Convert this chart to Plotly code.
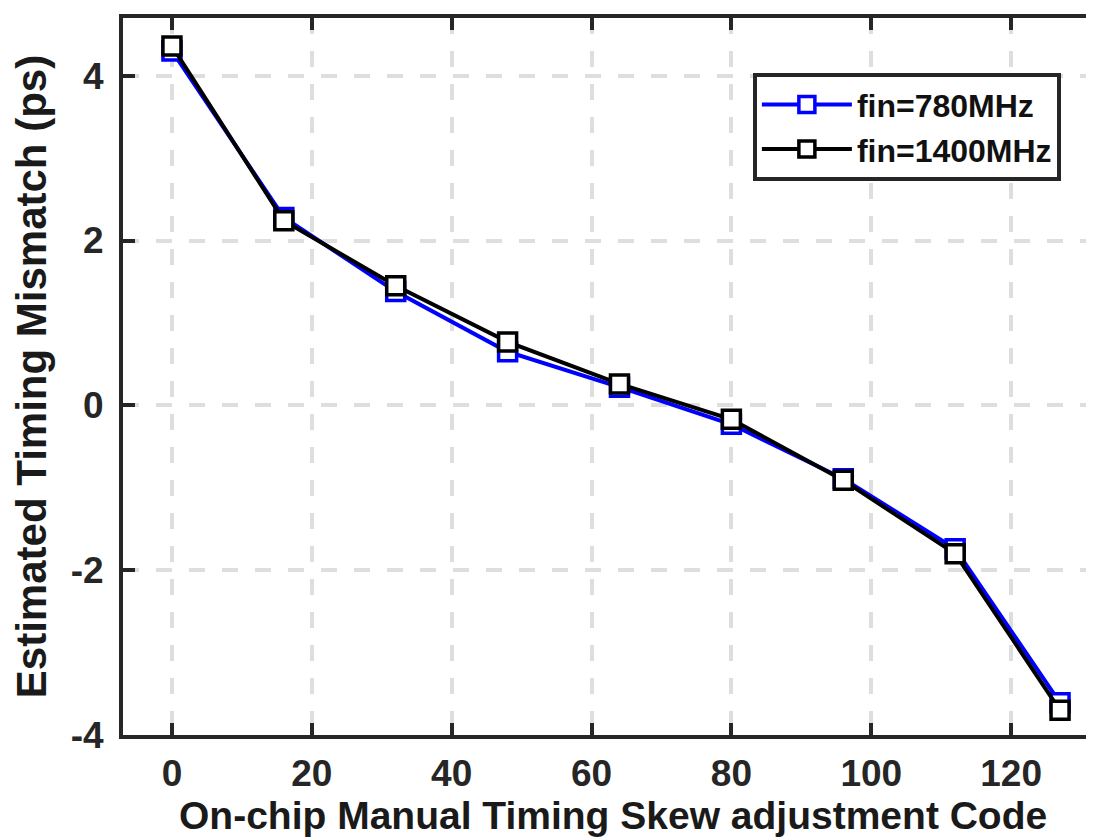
import plotly.graph_objects as go

codes = [0, 16, 32, 48, 64, 80, 96, 112, 127]
mismatch_780 = [4.30, 2.28, 1.38, 0.65, 0.22, -0.23, -0.89, -1.74, -3.61]
mismatch_1400 = [4.36, 2.24, 1.45, 0.77, 0.26, -0.17, -0.91, -1.80, -3.70]
x_ticks = [0, 20, 40, 60, 80, 100, 120]
y_ticks = [-4, -2, 0, 2, 4]
x_title = "On-chip Manual Timing Skew adjustment Code"
y_title = "Estimated Timing Mismatch (ps)"

FONT = "Liberation Sans, Arial, sans-serif"
AXC = "#262626"

fig = go.Figure()
fig.add_trace(go.Scatter(
    x=codes, y=mismatch_780, mode="lines+markers", name="fin=780MHz",
    line=dict(color="#0000ff", width=4),
    marker=dict(symbol="square", size=18, color="white",
                line=dict(color="#0000ff", width=3.5)),
))
fig.add_trace(go.Scatter(
    x=codes, y=mismatch_1400, mode="lines+markers", name="fin=1400MHz",
    line=dict(color="#000000", width=4),
    marker=dict(symbol="square", size=18, color="white",
                line=dict(color="#000000", width=3.5)),
))

fig.update_layout(
    width=1094, height=839,
    margin=dict(l=115, r=0, t=10, b=112),
    paper_bgcolor="white", plot_bgcolor="white",
    font=dict(family=FONT, color=AXC, weight="bold"),
    legend=dict(
        x=0.958, y=0.923, xanchor="right", yanchor="top",
        bgcolor="white", bordercolor=AXC, borderwidth=4,
        font=dict(size=32, color="#111111", family=FONT, weight="bold"),
        itemwidth=90, tracegroupgap=0,
    ),
    showlegend=True,
)

fig.add_annotation(
    text=x_title, xref="paper", yref="paper", x=0.5, y=-0.143,
    xanchor="center", yanchor="bottom", showarrow=False, borderpad=0,
    font=dict(size=39, family=FONT, color="#1a1a1a", weight="bold"),
)

fig.update_xaxes(
    range=[-7, 133], tickvals=x_ticks, ticktext=[str(v) for v in x_ticks],
    showline=True, linewidth=4, linecolor=AXC, mirror="ticks",
    ticks="inside", ticklen=12, tickwidth=3.5, tickcolor=AXC,
    showgrid=True, gridcolor="#dedede", gridwidth=3.5, griddash="16px,17px",
    zeroline=False,
    tickfont=dict(size=37, family=FONT, color=AXC, weight="bold"),
    ticklabelstandoff=3,
    automargin=False,
)
fig.update_yaxes(
    range=[-4, 4.7], tickvals=y_ticks, ticktext=[str(v) for v in y_ticks],
    showline=True, linewidth=4, linecolor=AXC, mirror=False,
    ticks="inside", ticklen=12, tickwidth=3.5, tickcolor=AXC,
    showgrid=True, gridcolor="#dedede", gridwidth=3.5, griddash="16px,17px",
    zeroline=False,
    tickfont=dict(size=37, family=FONT, color=AXC, weight="bold"),
    ticklabelstandoff=8,
    title=dict(text=y_title,
               font=dict(size=42, family=FONT, color="#1a1a1a", weight="bold"),
               standoff=12),
    automargin=False,
)

fig.write_html("out.html")
